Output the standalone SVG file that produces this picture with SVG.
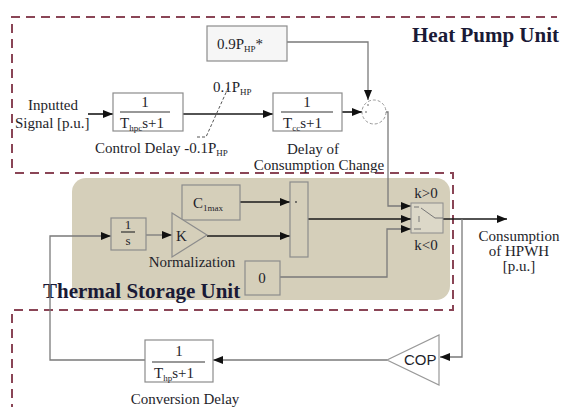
<svg xmlns="http://www.w3.org/2000/svg" width="563" height="407" viewBox="0 0 563 407">
<style>
text{font-family:"Liberation Serif","Times New Roman",serif;fill:#1e1e2a}
.t{font-size:15px}
.f{font-size:15px;text-anchor:middle}
.sub{font-size:9px}
.title{font-size:21px;font-weight:bold;fill:#1a1a36}
.box{fill:#ffffff;stroke:#8c8c8c;stroke-width:1.2}
.tbox{fill:#d5cfba;stroke:#8c8c8c;stroke-width:1.2}
.bar{stroke:#333;stroke-width:1.2}
.dash{fill:none;stroke:#8a4556;stroke-width:2;stroke-dasharray:9 6}
.w{fill:none;stroke:#1a1a1a;stroke-width:1.6}
.g{fill:none;stroke:#7a7a7a;stroke-width:1.3}
</style>
<defs>
<marker id="ah" markerWidth="10" markerHeight="8" refX="10" refY="4" orient="auto" markerUnits="userSpaceOnUse">
<path d="M0,0 L10,4 L0,8 Z" fill="#111"/>
</marker>
</defs>
<rect width="563" height="407" fill="#ffffff"/>
<g id="regions">
<rect x="72" y="178" width="378" height="122" rx="14" fill="#d5cfba"/>
<path class="dash" d="M12,168 V17 H557"/>
<path class="dash" d="M15,173 H453 V310 H12 V407"/>
<text class="title" x="412" y="42">Heat Pump Unit</text>
<text class="title" x="43" y="298">Thermal Storage Unit</text>
</g>
<g id="connectors">
<path class="w" d="M88,114 H113" marker-end="url(#ah)"/>
<path class="w" d="M183,114 H273" marker-end="url(#ah)"/>
<path class="w" d="M342,112 H362" marker-end="url(#ah)"/>
<path class="g" d="M287,42 H368 V100" marker-end="url(#ah)"/>
<path class="g" d="M386,112 H388 V206 H411" marker-end="url(#ah)"/>
<path class="w" d="M240,202 H290" marker-end="url(#ah)"/>
<path class="w" d="M207,236 H290" marker-end="url(#ah)"/>
<path class="w" d="M308,219 H411" marker-end="url(#ah)"/>
<path class="g" d="M280,277 H387 V229 H411" marker-end="url(#ah)"/>
<path class="w" d="M443,219 H507" marker-end="url(#ah)"/>
<path class="g" d="M462,219 V357 H440" marker-end="url(#ah)"/>
<path class="g" d="M387,360 H213" marker-end="url(#ah)"/>
<path class="g" d="M145,360 H50 V236 H111" marker-end="url(#ah)"/>
<path class="g" d="M146,235 H172" marker-end="url(#ah)"/>
<path d="M197,137 H206 L229,86" fill="none" stroke="#555" stroke-width="1" stroke-dasharray="3 2"/>
</g>
<g id="input-label">
<text class="t" x="28" y="110">Inputted</text>
<text class="t" x="15" y="128">Signal [p.u.]</text>
</g>
<g id="control-delay">
<rect class="box" x="113" y="93" width="70" height="38"/>
<text class="f" x="145" y="107">1</text>
<line class="bar" x1="120" y1="112" x2="170" y2="112"/>
<text class="t" x="120" y="128">T<tspan class="sub" dy="3">hpc</tspan><tspan dy="-3">s+1</tspan></text>
<text class="t" x="95" y="153">Control Delay -0.1P<tspan class="sub" dy="3">HP</tspan></text>
</g>
<g id="limit">
<text class="t" x="213" y="92">0.1P<tspan class="sub" dy="3">HP</tspan></text>
</g>
<g id="consumption-delay">
<rect class="box" x="273" y="93" width="69" height="38"/>
<text class="f" x="307" y="107">1</text>
<line class="bar" x1="281" y1="112" x2="333" y2="112"/>
<text class="t" x="283" y="128">T<tspan class="sub" dy="3">cc</tspan><tspan dy="-3">s+1</tspan></text>
<text class="f" x="313" y="154">Delay of</text>
<text class="f" x="319" y="170">Consumption Change</text>
</g>
<g id="p09">
<rect x="207" y="26" width="80" height="35" fill="#f6f6f6" stroke="#8c8c8c" stroke-width="1.2"/>
<text class="t" x="217" y="49">0.9P<tspan class="sub" dy="3">HP</tspan><tspan dy="-3">*</tspan></text>
</g>
<g id="sum">
<circle cx="374" cy="112" r="12" fill="#fff" stroke="#999" stroke-width="1" stroke-dasharray="3 2"/>
<circle cx="368" cy="105" r="0.8" fill="#555"/>
<circle cx="366" cy="112" r="0.8" fill="#555"/>
</g>
<g id="cmax">
<rect class="tbox" x="182" y="185" width="58" height="35"/>
<text class="t" x="193" y="208">C<tspan class="sub" dy="3">1max</tspan></text>
</g>
<g id="integrator">
<rect class="tbox" x="111" y="218" width="35" height="32"/>
<text class="f" x="128" y="229" style="font-size:13px">1</text>
<line class="bar" x1="121" y1="232" x2="135" y2="232"/>
<text class="f" x="128" y="245" style="font-size:13px">s</text>
</g>
<g id="gain-k">
<path d="M172,213 L207,235 L172,257 Z" fill="#d5cfba" stroke="#8c8c8c" stroke-width="1.2"/>
<text class="t" x="176" y="241">K</text>
<text class="f" x="192" y="267">Normalization</text>
</g>
<g id="mux">
<rect class="tbox" x="290" y="182" width="18" height="75"/>
<circle cx="296" cy="202" r="0.9" fill="#444"/>
</g>
<g id="zero">
<rect class="tbox" x="245" y="261" width="35" height="34"/>
<text class="f" x="262" y="283">0</text>
</g>
<g id="switch">
<rect x="411" y="203" width="32" height="30" fill="#dcd8c8" stroke="#8c8c8c" stroke-width="1"/>
<path d="M414,207 H419 M421,208 L435,218 H443 M419,216 V222 M414,229 H421" fill="none" stroke="#777" stroke-width="1"/>
<text class="f" x="426" y="198">k&gt;0</text>
<text class="f" x="426" y="250">k&lt;0</text>
</g>
<g id="output-label">
<text class="f" x="519" y="241">Consumption</text>
<text class="f" x="519" y="256">of HPWH</text>
<text class="f" x="519" y="271">[p.u.]</text>
</g>
<g id="cop">
<path d="M439,335 L439,385 L387,360 Z" fill="#fff" stroke="#999" stroke-width="1.2"/>
<text class="t" x="404" y="365" style="font-family:'Liberation Sans',Arial,sans-serif">COP</text>
</g>
<g id="conversion-delay">
<rect class="box" x="145" y="340" width="68" height="42"/>
<text class="f" x="179" y="356">1</text>
<line class="bar" x1="152" y1="362" x2="205" y2="362"/>
<text class="t" x="154" y="378">T<tspan class="sub" dy="3">hp</tspan><tspan dy="-3">s+1</tspan></text>
<text class="f" x="185" y="404">Conversion Delay</text>
</g>
</svg>
